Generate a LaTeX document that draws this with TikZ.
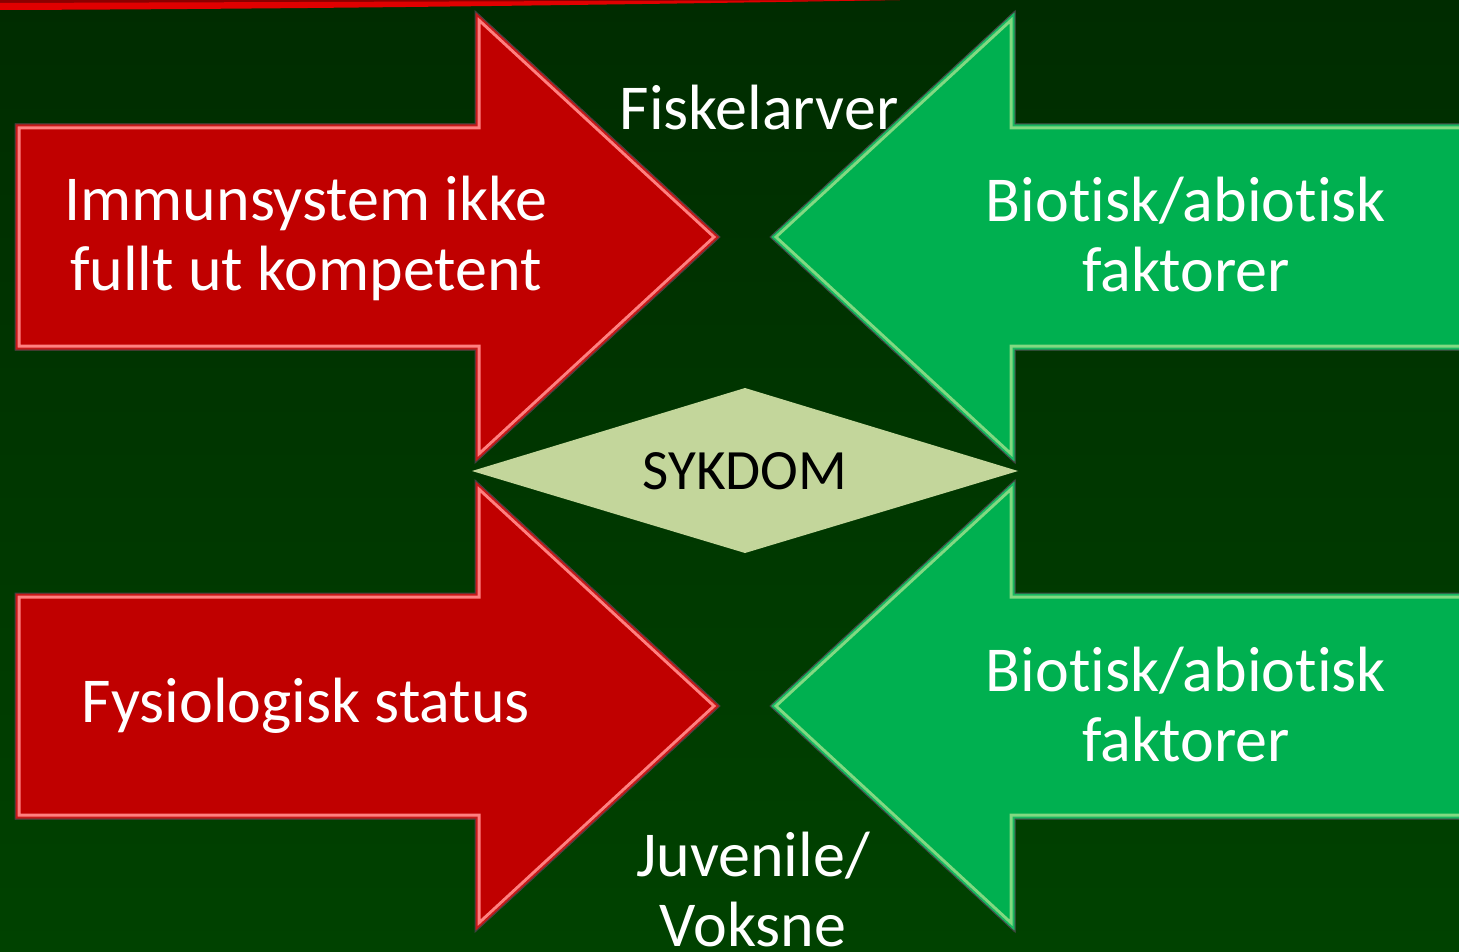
\documentclass[tikz,border=0pt]{standalone}
\usepackage{fontspec}
\setmainfont{Carlito}[Ligatures=NoCommon]
\usetikzlibrary{positioning, calc}
\definecolor{bgtop}{HTML}{002C00}
\definecolor{bgbottom}{HTML}{004200}
\definecolor{arrowred}{HTML}{C00000}
\definecolor{arrowgreen}{HTML}{00B050}
\definecolor{sykdomfill}{HTML}{C3D69B}
\definecolor{bandred}{HTML}{E00000}
\definecolor{banddark}{HTML}{8A0000}

\tikzset{
  x=1pt, y=-1pt,
  redshape/.style={insert path={(15,#1-113) -- (475,#1-113) -- (475,#1-226) -- (720,#1)
      -- (475,#1+226) -- (475,#1+113) -- (15,#1+113) -- cycle}},
  greenshape/.style={insert path={(1470,#1-113) -- (1015,#1-113) -- (1015,#1-226) -- (770,#1)
      -- (1015,#1+226) -- (1015,#1+113) -- (1470,#1+113) -- cycle}},
  whitetext/.style={text=white, align=center, font=\fontsize{64}{70}\selectfont},
}

\begin{document}
\begin{tikzpicture}
      \useasboundingbox (0,0) rectangle (1459,952);
      \shade[top color=bgtop, bottom color=bgbottom] (0,0) rectangle (1459,952);

      % red band at the top
      \fill[banddark] (0,0) -- (900,0) .. controls (600,4) and (300,6) .. (0,6) -- cycle;
      \fill[bandred] (0,3) -- (900,0) .. controls (600,5) and (300,9) .. (0,10) -- cycle;

      \foreach \cy in {237, 706} {
        \fill[arrowred, redshape=\cy];
        \begin{scope}
          \clip[redshape=\cy];
          \draw[line width=11pt, red!50!white, line join=miter][redshape=\cy];
          \draw[line width=5pt, arrowred!90!white, line join=miter][redshape=\cy];
        \end{scope}
        \draw[black!75, line width=1pt][redshape=\cy];

        \fill[arrowgreen, greenshape=\cy];
        \begin{scope}
          \clip[greenshape=\cy];
          \draw[line width=11pt, green!40!white!85!black, line join=miter][greenshape=\cy];
          \draw[line width=5pt, arrowgreen!90!white, line join=miter][greenshape=\cy];
        \end{scope}
        \draw[black!75, line width=1pt][greenshape=\cy];
      }

      % the diamond in the middle
      \node[font=\fontsize{57}{60}\selectfont] (sykdom) at (745,471) {\phantom{SYKDOM}};
      \fill[sykdomfill] (472,471) -- (745,388) -- (1018,471) -- (745,553) -- cycle;
      \node[font=\fontsize{57}{60}\selectfont] at (sykdom) {SYKDOM};

      \node[whitetext] (immun) at (306,238) {Immunsystem ikke\\fullt ut kompetent};
      \node[whitetext] (fysio) at (306,706) {Fysiologisk status};
      \node[whitetext] (biotop) at (1186,235) {Biotisk/abiotisk\\faktorer};
      \node[whitetext] (biobot) at (1186,705) {Biotisk/abiotisk\\faktorer};
      \node[whitetext] (larver) at (759,108) {Fiskelarver};
      \node[whitetext] (juvenil) at (753,890) {Juvenile/\\Voksne};
\end{tikzpicture}
\end{document}
